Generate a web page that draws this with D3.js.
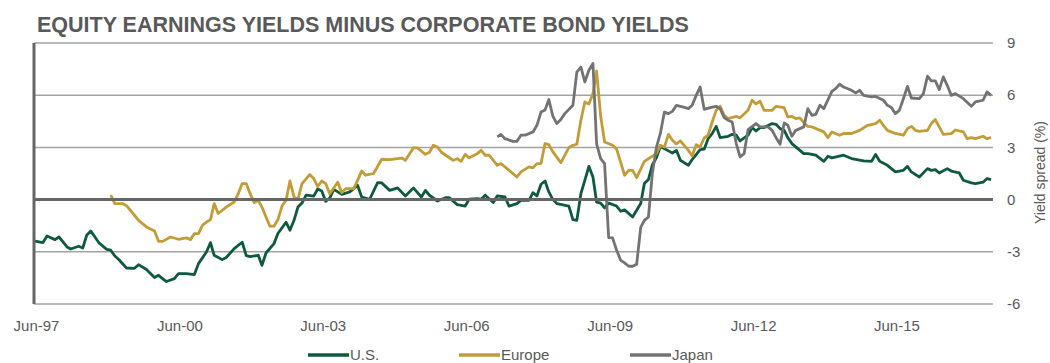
<!DOCTYPE html>
<html>
<head>
  <meta charset="utf-8">
  <title>Equity earnings yields minus corporate bond yields</title>
  <script src="https://d3js.org/d3.v7.min.js"></script>
  <style>
    body {
      margin: 0;
      background: #ffffff;
      font-family: "Liberation Sans", Arial, sans-serif;
    }
    .tick-label, .legend-label, .axis-title {
      fill: #595959;
    }
  </style>
</head>
<body>
  <div id="chart"></div>

  <script>
    // series values, monthly points ("YYYY-MM", yield spread %)
    const usSeries = [
      ["1997-06", -2.38], ["1997-08", -2.47], ["1997-09", -2.09], ["1997-11", -2.30], ["1997-12", -2.15],
      ["1998-02", -2.72], ["1998-03", -2.84], ["1998-05", -2.68], ["1998-06", -2.78], ["1998-07", -2.05],
      ["1998-08", -1.80], ["1998-10", -2.47], ["1998-12", -2.86], ["1999-01", -2.91], ["1999-02", -3.24],
      ["1999-03", -3.43], ["1999-05", -3.93], ["1999-07", -3.95], ["1999-08", -3.74], ["1999-10", -4.02],
      ["1999-12", -4.48], ["2000-01", -4.35], ["2000-03", -4.71], ["2000-05", -4.54], ["2000-06", -4.25],
      ["2000-08", -4.25], ["2000-10", -4.31], ["2000-11", -3.68], ["2001-01", -3.01], ["2001-02", -2.47],
      ["2001-03", -3.20], ["2001-05", -3.45], ["2001-06", -3.33], ["2001-08", -2.82], ["2001-10", -2.45],
      ["2001-11", -3.22], ["2001-12", -3.28], ["2002-02", -3.20], ["2002-03", -3.78], ["2002-04", -3.07],
      ["2002-06", -2.53], ["2002-07", -1.95], ["2002-09", -1.30], ["2002-10", -1.76], ["2002-11", -1.19],
      ["2002-12", -0.43], ["2003-01", -0.20], ["2003-02", 0.26], ["2003-04", 0.20], ["2003-05", 0.61],
      ["2003-06", 0.50], ["2003-07", -0.10], ["2003-08", 0.09], ["2003-09", 0.59], ["2003-11", 0.30],
      ["2004-01", 0.44], ["2004-03", 0.82], ["2004-04", 0.15], ["2004-06", 0.02], ["2004-08", 0.98],
      ["2004-09", 0.96], ["2004-11", 0.53], ["2005-01", 0.67], ["2005-03", 0.21], ["2005-05", 0.67],
      ["2005-07", 0.15], ["2005-08", 0.53], ["2005-09", 0.25], ["2005-11", -0.08], ["2006-01", 0.11],
      ["2006-02", 0.11], ["2006-04", -0.29], ["2006-06", -0.37], ["2006-07", 0.02], ["2006-09", 0.05],
      ["2006-10", 0.02], ["2006-11", 0.25], ["2007-01", -0.17], ["2007-02", 0.21], ["2007-04", 0.15],
      ["2007-05", -0.37], ["2007-07", -0.23], ["2007-08", -0.04], ["2007-10", -0.04], ["2007-11", 0.40],
      ["2007-12", 0.21], ["2008-01", 0.88], ["2008-02", 1.07], ["2008-03", 0.44], ["2008-04", 0.00],
      ["2008-05", -0.23], ["2008-08", -0.37], ["2008-09", -1.15], ["2008-10", -1.19], ["2008-11", 0.34],
      ["2008-12", 1.11], ["2009-01", 1.91], ["2009-02", 1.30], ["2009-03", -0.14], ["2009-04", -0.20],
      ["2009-05", -0.48], ["2009-06", -0.20], ["2009-08", -0.37], ["2009-09", -0.67], ["2009-10", -0.59],
      ["2009-12", -1.00], ["2010-01", -0.61], ["2010-02", -0.23], ["2010-03", 0.92], ["2010-04", 1.15],
      ["2010-05", 2.00], ["2010-06", 2.40], ["2010-07", 3.05], ["2010-09", 2.80], ["2010-10", 2.68],
      ["2010-11", 2.83], ["2010-12", 2.26], ["2011-02", 1.97], ["2011-03", 2.30], ["2011-05", 2.87],
      ["2011-06", 2.90], ["2011-07", 3.50], ["2011-08", 3.79], ["2011-09", 4.21], ["2011-10", 3.56],
      ["2011-12", 3.64], ["2012-01", 3.75], ["2012-02", 3.70], ["2012-03", 3.37], ["2012-05", 3.70],
      ["2012-06", 4.14], ["2012-07", 3.94], ["2012-08", 4.14], ["2012-09", 4.14], ["2012-11", 4.37],
      ["2012-12", 4.33], ["2013-01", 4.08], ["2013-02", 3.98], ["2013-03", 3.56], ["2013-04", 3.22],
      ["2013-06", 2.83], ["2013-07", 2.64], ["2013-08", 2.64], ["2013-10", 2.55], ["2013-12", 2.20],
      ["2014-01", 2.49], ["2014-02", 2.40], ["2014-05", 2.55], ["2014-07", 2.36], ["2014-10", 2.22],
      ["2014-12", 2.20], ["2015-01", 2.60], ["2015-02", 2.20], ["2015-04", 1.97], ["2015-06", 1.59],
      ["2015-08", 1.68], ["2015-09", 1.91], ["2015-10", 1.59], ["2015-12", 1.30], ["2016-02", 1.78],
      ["2016-03", 1.68], ["2016-04", 1.72], ["2016-05", 1.53], ["2016-07", 1.78], ["2016-08", 1.64],
      ["2016-10", 1.53], ["2016-11", 1.11], ["2017-01", 0.96], ["2017-02", 0.92], ["2017-04", 1.00],
      ["2017-05", 1.21], ["2017-06", 1.15]
    ];

    const europeSeries = [
      ["1999-01", 0.26], ["1999-02", -0.23], ["1999-04", -0.23], ["1999-05", -0.35], ["1999-07", -0.90],
      ["1999-08", -1.19], ["1999-10", -1.57], ["1999-12", -1.80], ["2000-01", -2.40], ["2000-02", -2.40],
      ["2000-04", -2.15], ["2000-06", -2.28], ["2000-08", -2.20], ["2000-09", -2.30], ["2000-10", -1.95],
      ["2000-11", -1.95], ["2000-12", -1.48], ["2001-01", -1.29], ["2001-02", -1.15], ["2001-03", -0.23],
      ["2001-04", -0.80], ["2001-06", -0.43], ["2001-08", -0.14], ["2001-09", 0.34], ["2001-10", 0.92],
      ["2001-11", 0.92], ["2001-12", 0.34], ["2002-01", -0.17], ["2002-02", -0.05], ["2002-03", -0.43],
      ["2002-04", -1.00], ["2002-05", -1.53], ["2002-06", -1.53], ["2002-07", -1.15], ["2002-08", -0.37],
      ["2002-09", -0.04], ["2002-10", 1.07], ["2002-11", 0.15], ["2002-12", 0.00], ["2003-01", 0.92],
      ["2003-03", 1.44], ["2003-04", 1.21], ["2003-05", 0.75], ["2003-06", 1.07], ["2003-07", 0.92],
      ["2003-08", 0.34], ["2003-10", 1.00], ["2003-11", 0.40], ["2003-12", 0.63], ["2004-02", 0.63],
      ["2004-04", 1.64], ["2004-05", 1.40], ["2004-07", 1.50], ["2004-09", 2.32], ["2004-11", 2.30],
      ["2005-02", 2.39], ["2005-03", 2.26], ["2005-05", 2.97], ["2005-06", 2.97], ["2005-08", 2.60],
      ["2005-09", 2.72], ["2005-10", 3.12], ["2005-11", 3.02], ["2005-12", 2.72], ["2006-03", 2.26],
      ["2006-04", 2.35], ["2006-05", 2.20], ["2006-06", 2.60], ["2006-07", 2.40], ["2006-09", 2.64],
      ["2006-10", 2.83], ["2006-11", 2.55], ["2006-12", 2.55], ["2007-02", 1.97], ["2007-03", 2.07],
      ["2007-04", 1.88], ["2007-07", 1.30], ["2007-08", 1.59], ["2007-10", 1.88], ["2007-11", 1.82],
      ["2007-12", 2.07], ["2008-01", 2.07], ["2008-02", 3.22], ["2008-03", 3.16], ["2008-04", 2.74],
      ["2008-06", 2.13], ["2008-08", 2.99], ["2008-09", 3.12], ["2008-10", 3.18], ["2008-11", 4.56],
      ["2008-12", 5.61], ["2009-01", 5.50], ["2009-02", 6.09], ["2009-03", 7.39], ["2009-04", 4.80],
      ["2009-05", 3.31], ["2009-07", 3.12], ["2009-08", 2.90], ["2009-10", 1.40], ["2009-11", 1.68],
      ["2009-12", 1.68], ["2010-01", 1.26], ["2010-03", 2.20], ["2010-04", 2.35], ["2010-06", 2.64],
      ["2010-07", 3.12], ["2010-08", 3.02], ["2010-09", 3.75], ["2010-10", 3.41], ["2010-11", 3.20],
      ["2010-12", 3.37], ["2011-02", 2.83], ["2011-03", 2.51], ["2011-04", 3.16], ["2011-05", 3.02],
      ["2011-06", 3.54], ["2011-07", 3.70], ["2011-08", 4.46], ["2011-09", 5.13], ["2011-10", 5.36],
      ["2011-11", 4.84], ["2011-12", 4.66], ["2012-02", 4.78], ["2012-03", 4.70], ["2012-05", 5.13],
      ["2012-06", 5.71], ["2012-07", 5.50], ["2012-08", 5.65], ["2012-09", 5.13], ["2012-11", 5.13],
      ["2012-12", 5.36], ["2013-02", 5.28], ["2013-03", 4.75], ["2013-04", 4.78], ["2013-05", 4.66],
      ["2013-06", 4.70], ["2013-07", 4.42], ["2013-08", 4.21], ["2013-09", 4.18], ["2013-12", 3.89],
      ["2014-01", 3.56], ["2014-02", 3.89], ["2014-04", 3.70], ["2014-05", 3.80], ["2014-07", 3.80],
      ["2014-09", 3.98], ["2014-11", 4.27], ["2015-01", 4.37], ["2015-02", 4.56], ["2015-03", 4.27],
      ["2015-04", 3.98], ["2015-06", 3.80], ["2015-08", 3.70], ["2015-09", 4.08], ["2015-10", 4.21],
      ["2015-11", 3.98], ["2015-12", 3.92], ["2016-02", 3.98], ["2016-03", 4.37], ["2016-04", 4.60],
      ["2016-05", 4.18], ["2016-06", 3.75], ["2016-08", 3.79], ["2016-09", 4.00], ["2016-11", 3.89],
      ["2016-12", 3.50], ["2017-01", 3.56], ["2017-02", 3.50], ["2017-04", 3.64], ["2017-05", 3.50],
      ["2017-06", 3.56]
    ];

    const japanSeries = [
      ["2007-02", 3.60], ["2007-03", 3.75], ["2007-04", 3.50], ["2007-06", 3.35], ["2007-07", 3.35],
      ["2007-08", 3.70], ["2007-09", 3.70], ["2007-11", 3.89], ["2007-12", 4.27], ["2008-01", 5.03],
      ["2008-02", 5.15], ["2008-03", 5.75], ["2008-04", 4.79], ["2008-05", 4.37], ["2008-06", 4.60],
      ["2008-07", 4.94], ["2008-09", 5.42], ["2008-10", 7.33], ["2008-11", 7.62], ["2008-12", 6.76],
      ["2009-01", 7.43], ["2009-02", 7.82], ["2009-03", 3.20], ["2009-04", 2.36], ["2009-05", 2.07],
      ["2009-06", -2.18], ["2009-07", -2.20], ["2009-08", -2.91], ["2009-09", -3.49], ["2009-10", -3.64],
      ["2009-11", -3.83], ["2009-12", -3.83], ["2010-01", -3.72], ["2010-02", -1.60], ["2010-03", -1.19],
      ["2010-04", -1.00], ["2010-05", 1.50], ["2010-06", 3.00], ["2010-07", 3.80], ["2010-08", 5.03],
      ["2010-09", 4.94], ["2010-10", 5.07], ["2010-11", 5.42], ["2010-12", 5.36], ["2011-01", 5.30],
      ["2011-02", 5.23], ["2011-03", 5.42], ["2011-04", 5.99], ["2011-05", 6.47], ["2011-06", 5.19],
      ["2011-08", 5.32], ["2011-09", 5.36], ["2011-10", 5.23], ["2011-11", 4.71], ["2011-12", 4.56],
      ["2012-01", 4.46], ["2012-02", 3.22], ["2012-03", 2.45], ["2012-04", 2.64], ["2012-05", 4.02],
      ["2012-07", 4.37], ["2012-08", 4.18], ["2012-10", 4.18], ["2012-11", 3.98], ["2012-12", 3.56],
      ["2013-01", 3.18], ["2013-02", 4.40], ["2013-03", 4.27], ["2013-04", 3.64], ["2013-05", 3.98],
      ["2013-06", 4.08], ["2013-07", 4.18], ["2013-08", 5.23], ["2013-09", 4.84], ["2013-10", 4.90],
      ["2013-11", 5.42], ["2013-12", 5.23], ["2014-02", 6.22], ["2014-03", 6.38], ["2014-04", 6.63],
      ["2014-05", 6.47], ["2014-07", 6.28], ["2014-08", 6.13], ["2014-09", 6.28], ["2014-10", 5.99],
      ["2014-12", 5.90], ["2015-01", 5.93], ["2015-03", 5.71], ["2015-04", 5.42], ["2015-05", 5.30],
      ["2015-06", 4.94], ["2015-07", 5.13], ["2015-08", 5.80], ["2015-09", 6.51], ["2015-10", 5.84],
      ["2015-12", 5.80], ["2016-01", 6.09], ["2016-02", 7.09], ["2016-03", 6.82], ["2016-04", 6.82],
      ["2016-05", 6.32], ["2016-06", 7.05], ["2016-07", 6.57], ["2016-08", 5.99], ["2016-09", 6.09],
      ["2016-11", 5.80], ["2017-01", 5.36], ["2017-02", 5.61], ["2017-04", 5.71], ["2017-05", 6.19],
      ["2017-06", 5.99]
    ];

    const seriesNames = ["U.S.", "Europe", "Japan"];
    const seriesColors = ["#0d5a3d", "#c39c37", "#737373"];
    const yTicks = [-6, -3, 0, 3, 6, 9];
    const xTicks = ["1997-06", "2000-06", "2003-06", "2006-06", "2009-06", "2012-06", "2015-06"];

    const width = 1050;
    const height = 363;
    const plot = { left: 34, right: 993, top: 43, bottom: 304 };

    const parse = d3.timeParse("%Y-%m");
    const fmt = d3.timeFormat("%b-%y");

    const svg = d3.select("#chart")
      .append("svg")
      .attr("width", width)
      .attr("height", height);

    // scales
    const x = d3.scaleTime()
      .domain([parse("1997-06"), parse("2017-07")])
      .range([35, 995]);

    const y = d3.scaleLinear()
      .domain([-6, 9])
      .range([plot.bottom, plot.top]);

    // title
    svg.append("text")
      .attr("x", 37)
      .attr("y", 32)
      .style("font-size", "21.5px")
      .style("font-weight", "bold")
      .style("fill", "#595959")
      .text("EQUITY EARNINGS YIELDS MINUS CORPORATE BOND YIELDS");

    // gridlines
    svg.append("g")
      .selectAll("line")
      .data(yTicks.filter(d => d !== 0))
      .join("line")
      .attr("x1", plot.left)
      .attr("x2", plot.right)
      .attr("y1", d => y(d))
      .attr("y2", d => y(d))
      .attr("stroke", "#a3a3a3")
      .attr("stroke-width", 1.5);

    // right axis labels
    svg.append("g")
      .selectAll("text")
      .data(yTicks)
      .join("text")
      .attr("class", "tick-label")
      .attr("x", 1007)
      .attr("y", d => y(d))
      .attr("dy", "0.35em")
      .style("font-size", "15px")
      .text(d => d);

    svg.append("text")
      .attr("class", "axis-title")
      .attr("transform", `translate(1045,${(plot.top + plot.bottom) / 2 - 1}) rotate(-90)`)
      .attr("text-anchor", "middle")
      .style("font-size", "14px")
      .text("Yield spread (%)");

    // x axis labels
    svg.append("g")
      .selectAll("text")
      .data(xTicks)
      .join("text")
      .attr("class", "tick-label")
      .attr("x", d => x(parse(d)) + 1.5)
      .attr("y", 331)
      .attr("text-anchor", "middle")
      .style("font-size", "15px")
      .text(d => fmt(parse(d)));

    // lines
    const line = d3.line()
      .x(d => x(parse(d[0])))
      .y(d => y(d[1]));

    const allSeries = [usSeries, europeSeries, japanSeries];

    svg.append("g")
      .selectAll("path")
      .data(allSeries)
      .join("path")
      .attr("d", line)
      .attr("fill", "none")
      .attr("stroke", (d, i) => seriesColors[i])
      .attr("stroke-width", 2.8)
      .attr("stroke-linejoin", "round");

    // zero line and left axis drawn on top
    svg.append("line")
      .attr("x1", plot.left)
      .attr("x2", plot.right)
      .attr("y1", y(0))
      .attr("y2", y(0))
      .attr("stroke", "#666666")
      .attr("stroke-width", 3);

    svg.append("line")
      .attr("x1", plot.left)
      .attr("x2", plot.left)
      .attr("y1", plot.top)
      .attr("y2", plot.bottom)
      .attr("stroke", "#666666")
      .attr("stroke-width", 3);

    // legend
    const legendX = [308, 459, 630];
    const legend = svg.append("g")
      .selectAll("g")
      .data(seriesNames)
      .join("g")
      .attr("transform", (d, i) => `translate(${legendX[i]},355)`);

    legend.append("line")
      .attr("x1", 0)
      .attr("x2", 41)
      .attr("stroke", (d, i) => seriesColors[i])
      .attr("stroke-width", 3.5);

    legend.append("text")
      .attr("class", "legend-label")
      .attr("x", 42)
      .attr("dy", "0.35em")
      .style("font-size", "15px")
      .text(d => d);
  </script>
</body>
</html>
